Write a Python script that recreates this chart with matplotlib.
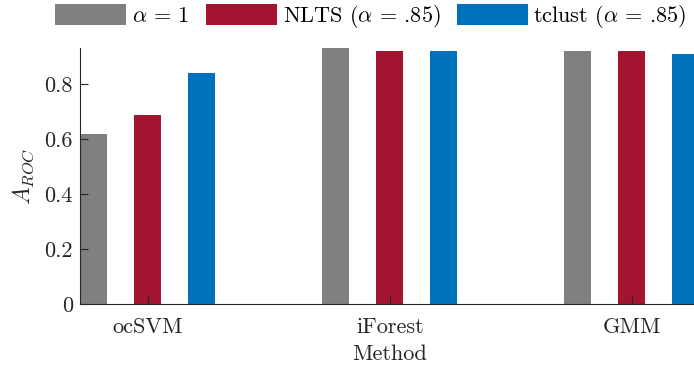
import matplotlib
matplotlib.use("Agg")
import matplotlib.pyplot as plt
import numpy as np

plt.rcParams["font.family"] = "serif"
plt.rcParams["font.serif"] = ["cmr10"]
plt.rcParams["mathtext.fontset"] = "cm"
plt.rcParams["axes.formatter.use_mathtext"] = True

methods = ["ocSVM", "iForest", "GMM"]
series_labels = [r"$\alpha\, =\, 1$", r"NLTS ($\alpha\, =\, $.85)", r"tclust ($\alpha\, =\, $.85)"]
auc_full = [0.618, 0.930, 0.920]
auc_nlts = [0.687, 0.920, 0.920]
auc_tclust = [0.840, 0.920, 0.909]
colors = ["#808080", "#A2142F", "#0072BD"]

fig = plt.figure(figsize=(6.94, 3.69), dpi=100)
ax = fig.add_axes([80 / 694, 65 / 369, 619 / 694, 256 / 369])

x = np.arange(1, len(methods) + 1)
offset = 0.223
width = 0.11
for i, (vals, lab, c) in enumerate(zip([auc_full, auc_nlts, auc_tclust], series_labels, colors)):
    ax.bar(x + (i - 1) * offset, vals, width, color=c, label=lab, edgecolor="none")

ax.set_xlim(1 - offset - width / 2 - 0.002, 3 + offset + width / 2)
ax.set_ylim(0, max(auc_full + auc_nlts + auc_tclust))
ax.set_xticks(x)
ax.set_xticklabels(methods)
ax.set_yticks([0, 0.2, 0.4, 0.6, 0.8])
ax.set_yticklabels(["0", "0.2", "0.4", "0.6", "0.8"])
ax.tick_params(direction="in", labelsize=16, length=5.5, color="#262626", labelcolor="#262626",
               pad=5)
ax.tick_params(axis="x", pad=10)
for s in ["top", "right"]:
    ax.spines[s].set_visible(False)
for s in ["left", "bottom"]:
    ax.spines[s].set_color("#262626")
ax.set_xlabel("Method", fontsize=16, color="#262626", labelpad=5)
ax.set_ylabel(r"$A_{ROC}$", fontsize=17, color="#262626", labelpad=6)

fig.legend(loc="upper left", bbox_to_anchor=(42 / 694, 1.028), ncol=3, frameon=False,
           fontsize=16, handlelength=3.2, handleheight=1.1, columnspacing=0.75,
           handletextpad=0.25, borderaxespad=0.2)

fig.savefig("out.png", dpi=100)
